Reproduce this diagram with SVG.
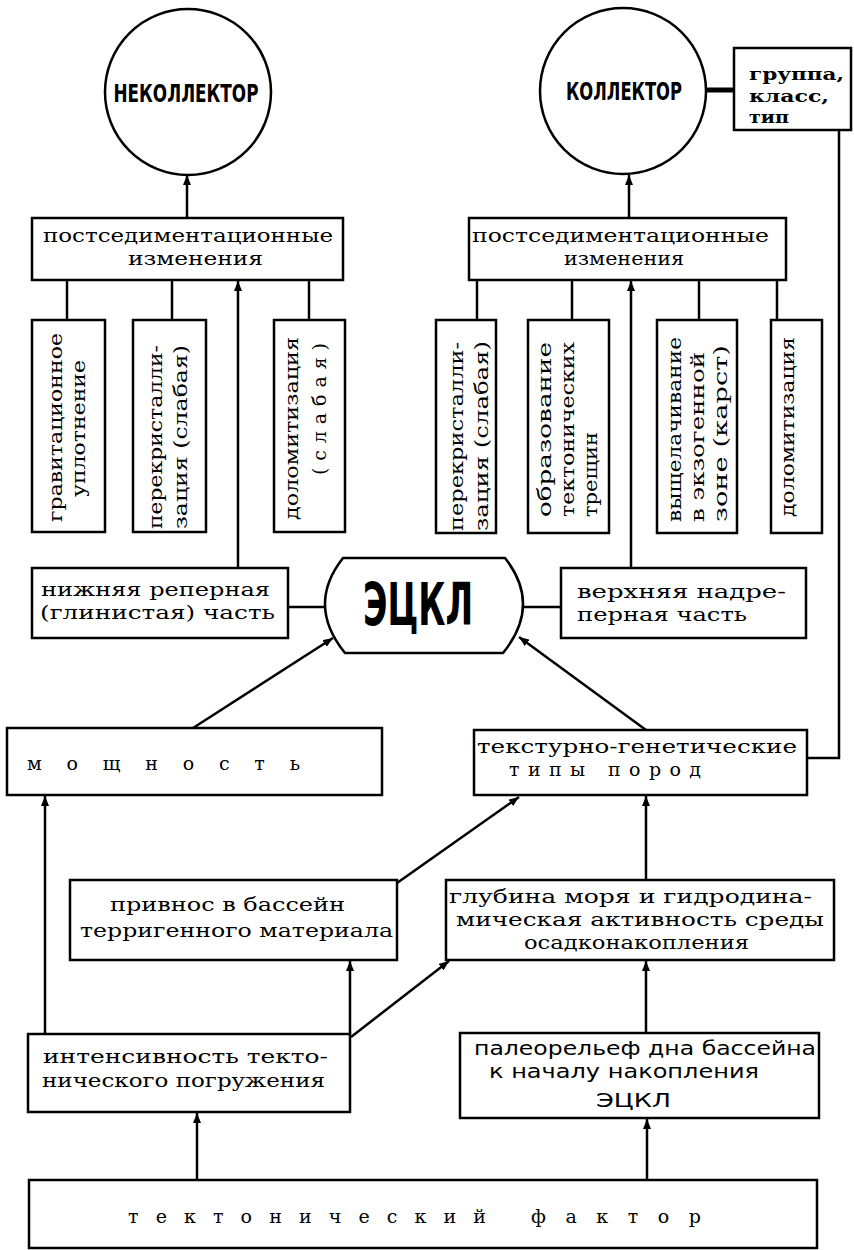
<svg xmlns="http://www.w3.org/2000/svg" width="854" height="1250" viewBox="0 0 854 1250">
<style>
.box{fill:#fff;stroke:#000;stroke-width:2.5}
.ln{fill:none;stroke:#000;stroke-width:2.5}
.arr{marker-end:url(#ah)}
.t{font-family:"DejaVu Serif","Liberation Serif",serif;font-size:19px;fill:#000}
.b{font-weight:bold;font-size:17px}
.cap{font-family:"DejaVu Sans","Liberation Sans",sans-serif;font-weight:bold;fill:#000}
.sm{font-family:"DejaVu Sans","Liberation Sans",sans-serif;font-size:19px;fill:#000}
</style>
<defs>
<marker id="ah" markerUnits="userSpaceOnUse" markerWidth="10" markerHeight="8" refX="10" refY="4" orient="auto">
<path d="M0,0 L10,4 L0,8 Z" fill="#000"/>
</marker>
</defs>
<rect width="854" height="1250" fill="#fff"/>

<g id="connectors">
<line class="ln arr" x1="187" y1="218" x2="187" y2="175"/>
<line class="ln arr" x1="629" y1="218" x2="629" y2="175"/>
<line class="ln" x1="706" y1="90" x2="734" y2="90" style="stroke-width:5"/>
<polyline class="ln" points="839,130 839,758 807,758"/>
<line class="ln" x1="67" y1="280" x2="67" y2="320"/>
<line class="ln" x1="172" y1="280" x2="172" y2="320"/>
<line class="ln" x1="309" y1="280" x2="309" y2="320"/>
<line class="ln" x1="477" y1="280" x2="477" y2="320"/>
<line class="ln" x1="572" y1="280" x2="572" y2="320"/>
<line class="ln" x1="699" y1="280" x2="699" y2="320"/>
<line class="ln" x1="777" y1="280" x2="777" y2="320"/>
<line class="ln arr" x1="238" y1="568" x2="238" y2="281"/>
<line class="ln arr" x1="631" y1="568" x2="631" y2="281"/>
<line class="ln" x1="288" y1="607" x2="326" y2="607"/>
<line class="ln" x1="523" y1="607" x2="561" y2="607"/>
<line class="ln arr" x1="193" y1="728" x2="333" y2="638"/>
<line class="ln arr" x1="646" y1="730" x2="519" y2="637"/>
<line class="ln arr" x1="45" y1="1034" x2="45" y2="796"/>
<line class="ln arr" x1="350" y1="1034" x2="350" y2="961"/>
<line class="ln arr" x1="351" y1="1037" x2="449" y2="961"/>
<line class="ln arr" x1="397" y1="883" x2="519" y2="797"/>
<line class="ln arr" x1="646" y1="880" x2="646" y2="796"/>
<line class="ln arr" x1="646" y1="1033" x2="646" y2="961"/>
<line class="ln arr" x1="197" y1="1180" x2="197" y2="1113"/>
<line class="ln arr" x1="647" y1="1180" x2="647" y2="1119"/>
</g>

<g id="nekollektor">
<circle class="box" cx="188" cy="92" r="83"/>
<text class="cap" x="186" y="102" font-size="25" text-anchor="middle" textLength="145" lengthAdjust="spacingAndGlyphs">НЕКОЛЛЕКТОР</text>
</g>
<g id="kollektor">
<circle class="box" cx="623" cy="91" r="83"/>
<text class="cap" x="624" y="100" font-size="25" text-anchor="middle" textLength="116" lengthAdjust="spacingAndGlyphs">КОЛЛЕКТОР</text>
</g>
<g id="gruppa">
<rect class="box" x="734" y="48" width="117" height="82"/>
<text class="t b" x="749" y="80" textLength="95" lengthAdjust="spacingAndGlyphs">группа,</text>
<text class="t b" x="749" y="102" textLength="80" lengthAdjust="spacingAndGlyphs">класс,</text>
<text class="t b" x="749" y="123" textLength="40" lengthAdjust="spacingAndGlyphs">тип</text>
</g>

<g id="postsed-left">
<rect class="box" x="32" y="218" width="311" height="62"/>
<text class="t" x="43" y="242" textLength="290" lengthAdjust="spacingAndGlyphs">постседиментационные</text>
<text class="t" x="128" y="265" textLength="135" lengthAdjust="spacingAndGlyphs">изменения</text>
</g>
<g id="postsed-right">
<rect class="box" x="469" y="218" width="317" height="62"/>
<text class="t" x="472" y="242" textLength="297" lengthAdjust="spacingAndGlyphs">постседиментационные</text>
<text class="t" x="564" y="265" textLength="120" lengthAdjust="spacingAndGlyphs">изменения</text>
</g>

<g id="gravit">
<rect class="box" x="32" y="320" width="73" height="212"/>
<text class="t" transform="translate(62,522) rotate(-90)" textLength="189" lengthAdjust="spacingAndGlyphs">гравитационное</text>
<text class="t" transform="translate(85,497) rotate(-90)" textLength="137" lengthAdjust="spacingAndGlyphs">уплотнение</text>
</g>
<g id="perekrist-left">
<rect class="box" x="133" y="320" width="73" height="212"/>
<text class="t" transform="translate(162,529) rotate(-90)" textLength="184" lengthAdjust="spacingAndGlyphs">перекристалли-</text>
<text class="t" transform="translate(187,529) rotate(-90)" textLength="184" lengthAdjust="spacingAndGlyphs">зация (слабая)</text>
</g>
<g id="dolomit-left">
<rect class="box" x="274" y="320" width="71" height="212"/>
<text class="t" transform="translate(298,520) rotate(-90)" textLength="183" lengthAdjust="spacingAndGlyphs">доломитизация</text>
<text class="t" transform="translate(326,475) rotate(-90)" textLength="132" lengthAdjust="spacing">(слабая)</text>
</g>

<g id="perekrist-right">
<rect class="box" x="436" y="320" width="60" height="213"/>
<text class="t" transform="translate(463,531) rotate(-90)" textLength="189" lengthAdjust="spacingAndGlyphs">перекристалли-</text>
<text class="t" transform="translate(488,531) rotate(-90)" textLength="190" lengthAdjust="spacingAndGlyphs">зация (слабая)</text>
</g>
<g id="treshchiny">
<rect class="box" x="528" y="320" width="81" height="213"/>
<text class="t" transform="translate(551,517) rotate(-90)" textLength="175" lengthAdjust="spacingAndGlyphs">образование</text>
<text class="t" transform="translate(574,517) rotate(-90)" textLength="175" lengthAdjust="spacingAndGlyphs">тектонических</text>
<text class="t" transform="translate(597,517) rotate(-90)" textLength="85" lengthAdjust="spacingAndGlyphs">трещин</text>
</g>
<g id="karst">
<rect class="box" x="657" y="320" width="80" height="213"/>
<text class="t" transform="translate(681,522) rotate(-90)" textLength="185" lengthAdjust="spacingAndGlyphs">выщелачивание</text>
<text class="t" transform="translate(704,522) rotate(-90)" textLength="170" lengthAdjust="spacingAndGlyphs">в экзогенной</text>
<text class="t" transform="translate(727,522) rotate(-90)" textLength="177" lengthAdjust="spacingAndGlyphs">зоне (карст)</text>
</g>
<g id="dolomit-right">
<rect class="box" x="771" y="320" width="51" height="213"/>
<text class="t" transform="translate(794,517) rotate(-90)" textLength="180" lengthAdjust="spacingAndGlyphs">доломитизация</text>
</g>

<g id="nizhnyaya">
<rect class="box" x="32" y="568" width="256" height="70"/>
<text class="t" x="41" y="596" textLength="229" lengthAdjust="spacingAndGlyphs">нижняя реперная</text>
<text class="t" x="40" y="619" textLength="235" lengthAdjust="spacingAndGlyphs">(глинистая) часть</text>
</g>
<g id="eckl">
<path class="box" d="M343,558 L505,558 Q542,605 503,653 L345,653 Q306,605 343,558 Z"/>
<text class="cap" x="418" y="625" font-size="58" text-anchor="middle" textLength="110" lengthAdjust="spacingAndGlyphs">ЭЦКЛ</text>
</g>
<g id="verkhnyaya">
<rect class="box" x="561" y="568" width="245" height="70"/>
<text class="t" x="577" y="598" textLength="209" lengthAdjust="spacingAndGlyphs">верхняя надре-</text>
<text class="t" x="577" y="621" textLength="170" lengthAdjust="spacingAndGlyphs">перная часть</text>
</g>

<g id="moshchnost">
<rect class="box" x="7" y="728" width="375" height="67"/>
<text class="t" x="27" y="770" textLength="273" lengthAdjust="spacing">мощность</text>
</g>
<g id="teksturno">
<rect class="box" x="474" y="730" width="333" height="65"/>
<text class="t" x="477" y="753" textLength="320" lengthAdjust="spacingAndGlyphs">текстурно-генетические</text>
<text class="t" x="509" y="776" textLength="192" lengthAdjust="spacing">типы пород</text>
</g>

<g id="privnos">
<rect class="box" x="70" y="880" width="327" height="80"/>
<text class="t" x="110" y="911" textLength="235" lengthAdjust="spacingAndGlyphs">привнос в бассейн</text>
<text class="t" x="80" y="937" textLength="313" lengthAdjust="spacingAndGlyphs">терригенного материала</text>
</g>
<g id="glubina">
<rect class="box" x="446" y="880" width="388" height="80"/>
<text class="t" x="449" y="903" textLength="363" lengthAdjust="spacingAndGlyphs">глубина моря и гидродина-</text>
<text class="t" x="456" y="926" textLength="368" lengthAdjust="spacingAndGlyphs">мическая активность среды</text>
<text class="t" x="524" y="949" textLength="225" lengthAdjust="spacingAndGlyphs">осадконакопления</text>
</g>

<g id="intensivnost">
<rect class="box" x="28" y="1034" width="322" height="78"/>
<text class="t" x="43" y="1063" textLength="285" lengthAdjust="spacingAndGlyphs">интенсивность текто-</text>
<text class="t" x="42" y="1087" textLength="283" lengthAdjust="spacingAndGlyphs">нического погружения</text>
</g>
<g id="paleorelief">
<rect class="box" x="460" y="1033" width="359" height="85"/>
<text class="sm" x="474" y="1055" textLength="342" lengthAdjust="spacingAndGlyphs">палеорельеф дна бассейна</text>
<text class="sm" x="489" y="1078" textLength="270" lengthAdjust="spacingAndGlyphs">к началу накопления</text>
<text class="sm" x="596" y="1107" textLength="75" lengthAdjust="spacingAndGlyphs">ЭЦКЛ</text>
</g>

<g id="tekton-faktor">
<rect class="box" x="29" y="1180" width="788" height="68"/>
<text class="t" x="128" y="1223" textLength="358" lengthAdjust="spacing">тектонический</text>
<text class="t" x="531" y="1223" textLength="170" lengthAdjust="spacing">фактор</text>
</g>
</svg>
